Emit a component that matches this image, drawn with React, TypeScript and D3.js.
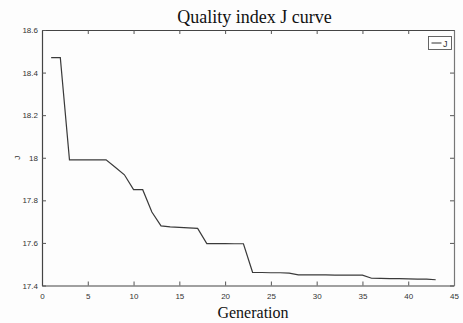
import React, { useEffect, useRef } from 'react';
import * as d3 from 'd3';

// generation numbers and J values
const generations = [
  1, 2, 3, 4, 5, 6, 7, 8, 9, 10, 11, 12, 13, 14, 15, 16, 17, 18, 19, 20, 21, 22,
  23, 24, 25, 26, 27, 28, 29, 30, 31, 32, 33, 34, 35, 36, 37, 38, 39, 40, 41, 42, 43,
];
const jValues = [
  18.47, 18.47, 17.99, 17.99, 17.99, 17.99, 17.99, 17.955, 17.92, 17.85, 17.85,
  17.745, 17.68, 17.675, 17.673, 17.671, 17.668, 17.597, 17.597, 17.597, 17.596,
  17.596, 17.462, 17.461, 17.46, 17.46, 17.458, 17.45, 17.45, 17.45, 17.45,
  17.449, 17.449, 17.449, 17.449, 17.434, 17.433, 17.432, 17.432, 17.431, 17.43,
  17.43, 17.427,
];
const xTicks = [0, 5, 10, 15, 20, 25, 30, 35, 40, 45];
const yTicks = [17.4, 17.6, 17.8, 18, 18.2, 18.4, 18.6];

const App = () => {
  const ref = useRef<SVGSVGElement>(null);

  useEffect(() => {
    const width = 463, height = 323;
    const margin = { top: 30, right: 9, bottom: 37.5, left: 42 };
    const svg = d3.select(ref.current);
    svg.selectAll('*').remove();

    const x = d3.scaleLinear().domain([0, 45]).range([margin.left, width - margin.right]);
    const y = d3.scaleLinear().domain([17.4, 18.6]).range([height - margin.bottom, margin.top]);

    svg.append('rect').attr('width', width).attr('height', height).attr('fill', '#fdfdfd');

    const font = '"Liberation Sans", Arial, sans-serif';
    const fmt = (d: any) => d3.format('')(d);

    // axes with inward ticks on all four sides
    const bottom = svg.append('g')
      .attr('transform', `translate(0,${y(17.4)})`)
      .call(d3.axisBottom(x).tickValues(xTicks).tickSizeInner(-4).tickSizeOuter(0).tickPadding(8).tickFormat(fmt));
    const top = svg.append('g')
      .attr('transform', `translate(0,${y(18.6)})`)
      .call(d3.axisTop(x).tickValues(xTicks).tickSizeInner(-4).tickSizeOuter(0).tickFormat(() => ''));
    const left = svg.append('g')
      .attr('transform', `translate(${x(0)},0)`)
      .call(d3.axisLeft(y).tickValues(yTicks).tickSizeInner(-4).tickSizeOuter(0).tickPadding(4).tickFormat(fmt));
    const right = svg.append('g')
      .attr('transform', `translate(${x(45)},0)`)
      .call(d3.axisRight(y).tickValues(yTicks).tickSizeInner(-4).tickSizeOuter(0).tickFormat(() => ''));

    [bottom, top, left, right].forEach((g) => {
      g.selectAll('path').attr('stroke', '#444').attr('stroke-width', 1.2);
      g.selectAll('line').attr('stroke', '#555');
      g.selectAll('text')
        .attr('fill', '#333')
        .style('font-family', font)
        .style('font-size', '8px');
    });
    right.select('path').attr('stroke', '#777');

    // J curve
    const line = d3.line<number>()
      .x((d, i) => x(generations[i]))
      .y((d) => y(d));
    svg.append('path')
      .datum(jValues)
      .attr('d', line)
      .attr('fill', 'none')
      .attr('stroke', '#3a3a3a')
      .attr('stroke-width', 1.2);

    // title and labels
    svg.append('text')
      .attr('x', 254.5)
      .attr('y', 23)
      .attr('text-anchor', 'middle')
      .style('font-family', '"Liberation Serif", "Times New Roman", serif')
      .style('font-size', '18px')
      .attr('fill', '#111')
      .text('Quality index J curve');

    svg.append('text')
      .attr('x', 253)
      .attr('y', 318)
      .attr('text-anchor', 'middle')
      .style('font-family', '"Liberation Serif", "Times New Roman", serif')
      .style('font-size', '16px')
      .attr('fill', '#111')
      .text('Generation');

    svg.append('text')
      .attr('transform', `translate(20,${y(18)}) rotate(-90)`)
      .attr('text-anchor', 'middle')
      .style('font-family', font)
      .style('font-size', '8px')
      .attr('fill', '#333')
      .text('J');

    // legend
    const lg = svg.append('g').attr('transform', 'translate(428.5,36.5)');
    lg.append('rect')
      .attr('width', 23).attr('height', 13)
      .attr('fill', '#fff').attr('stroke', '#555').attr('stroke-width', 0.9);
    lg.append('line')
      .attr('x1', 3).attr('x2', 13).attr('y1', 6.5).attr('y2', 6.5)
      .attr('stroke', '#333').attr('stroke-width', 1);
    lg.append('text')
      .attr('x', 14.5).attr('y', 10)
      .style('font-family', font)
      .style('font-size', '9px')
      .attr('fill', '#333')
      .text('J');
  }, []);

  return (
    <svg ref={ref} width={463} height={323}
      style={{ position: 'absolute', left: 0, top: 0, display: 'block' }} />
  );
};

export default App;
